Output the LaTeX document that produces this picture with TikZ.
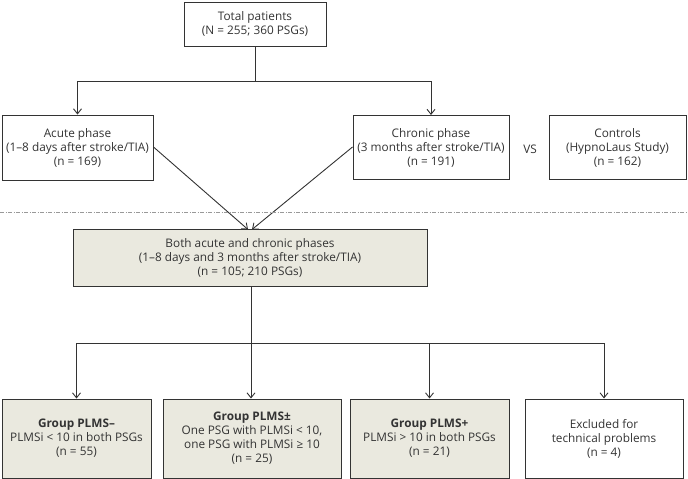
\documentclass[tikz,border=0pt]{standalone}
\usepackage{fontspec}
\setmainfont{Open Sans}
\usetikzlibrary{arrows.meta}
\definecolor{boxfill}{HTML}{EAE9DF}
\definecolor{edge}{HTML}{333333}
\definecolor{txt}{HTML}{333333}
\begin{document}
\begin{tikzpicture}[x=1pt,y=-1pt,
  box/.style={draw=edge,line width=1pt,rectangle,align=center,inner sep=0pt,
    font=\fontsize{11.8}{14}\selectfont,text=txt},
  shaded/.style={box,fill=boxfill},
  conn/.style={draw=edge,line width=0.9pt},
  arr/.style={conn,-{Straight Barb[length=5pt,width=8pt,line width=0.9pt]}}]
\useasboundingbox (0,0) rectangle (688,479);
\node[box,minimum width=142pt,minimum height=44pt] (total) at (255,24)
  {Total patients\\(N = 255; 360 PSGs)};
\node[box,minimum width=151pt,minimum height=65pt] (acute) at (77.5,147.5)
  {Acute phase\\(1–8 days after stroke/TIA)\\(n = 169)};
\node[box,minimum width=156pt,minimum height=64pt] (chronic) at (431,147.5)
  {Chronic phase\\(3 months after stroke/TIA)\\(n = 191)};
\node[box,draw=none] (vs) at (530,149) {VS};
\node[box,minimum width=137pt,minimum height=64pt] (controls) at (617.5,147.5)
  {Controls\\(HypnoLaus Study)\\(n = 162)};
\node[shaded,minimum width=354pt,minimum height=57pt] (both) at (250,257.5)
  {Both acute and chronic phases\\(1–8 days and 3 months after stroke/TIA)\\(n = 105; 210 PSGs)};
\node[shaded,minimum width=149pt,minimum height=79pt] (g1) at (76.5,438.5)
  {\textbf{Group PLMS–}\\PLMSi < 10 in both PSGs\\(n = 55)};
\node[shaded,minimum width=178pt,minimum height=79pt] (g2) at (252,438.5)
  {\textbf{Group PLMS±}\\One PSG with PLMSi < 10,\\one PSG with PLMSi ≥ 10\\(n = 25)};
\node[shaded,minimum width=159pt,minimum height=79pt] (g3) at (429.5,438.5)
  {\textbf{Group PLMS+}\\PLMSi > 10 in both PSGs\\(n = 21)};
\node[box,minimum width=158pt,minimum height=79pt] (g4) at (604,438.5)
  {Excluded for\\technical problems\\(n = 4)};
\coordinate (split1) at (255,81);
\coordinate (split2) at (251,343);
\coordinate (dl) at (0,212);
\coordinate (dr) at (688,212);
\draw[conn] (total.south) -- (split1);
\draw[arr] (split1) -| (acute.north);
\draw[arr] (split1) -| (chronic.north);
\draw[arr] (acute.east |- 0,147) -- (248,229.5);
\draw[arr] (chronic.west |- 0,147) -- (252,229.5);
\draw[draw=gray!80,line width=0.7pt,dash pattern=on 4pt off 1.5pt on 1pt off 1.5pt] (dl) -- (dr);
\draw[conn] (both.south -| split2) -- (split2);
\draw[arr] (split2) -| (g1.north);
\draw[arr] (split2) -- (split2 |- g2.north);
\draw[arr] (split2) -| (g3.north);
\draw[arr] (split2) -| (g4.north);
\end{tikzpicture}
\end{document}
